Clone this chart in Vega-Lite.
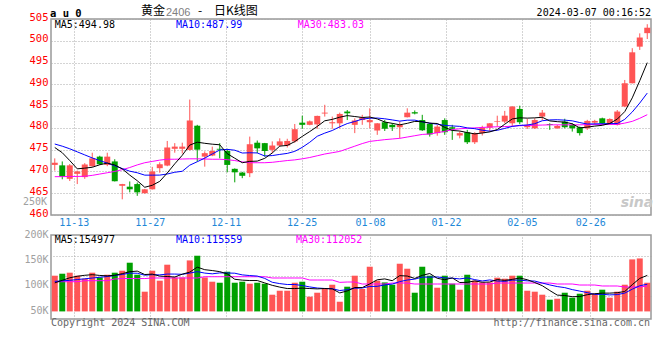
{
"$schema": "https://vega.github.io/schema/vega-lite/v6.json",
"background": "white",
"autosize": {"type": "pad"},
"padding": {"left": 22, "top": 4, "right": 5, "bottom": 5},
"config": {"view": {"stroke": "#999999", "strokeWidth": 1.5}, "axis": {"labelFont": "DejaVu Sans Mono", "labelFontSize": 10, "labelOverlap": false}},
"datasets": {"k": [
{"d":"11-08","open":471.5,"high":473.0,"low":470.2,"close":472.0,"vol":120100,"ma5":475.5,"ma10":476.3,"ma30":468.8,"vma5":106000,"vma10":109000,"vma30":108300},
{"d":"11-09","open":471.4,"high":472.3,"low":468.2,"close":468.8,"vol":124000,"ma5":474.3,"ma10":475.8,"ma30":468.8,"vma5":111000,"vma10":110000,"vma30":108300},
{"d":"11-10","open":468.3,"high":471.7,"low":467.8,"close":471.4,"vol":126000,"ma5":472.5,"ma10":475.2,"ma30":468.85,"vma5":116000,"vma10":111000,"vma30":108300},
{"d":"11-13","open":469.45,"high":470.2,"low":467.1,"close":470.0,"vol":120100,"ma5":470.6,"ma10":474.5,"ma30":468.85,"vma5":119000,"vma10":112500,"vma30":108300},
{"d":"11-14","open":468.7,"high":471.9,"low":468.3,"close":471.6,"vol":114200,"ma5":470.76,"ma10":473.8,"ma30":468.9,"vma5":120900,"vma10":114000,"vma30":110300},
{"d":"11-15","open":471.2,"high":474.3,"low":471.05,"close":473.0,"vol":126000,"ma5":470.96,"ma10":473.1,"ma30":469.1,"vma5":122100,"vma10":115500,"vma30":110300},
{"d":"11-16","open":473.4,"high":473.6,"low":471.5,"close":471.65,"vol":116700,"ma5":471.53,"ma10":472.5,"ma30":469.4,"vma5":120600,"vma10":117000,"vma30":110300},
{"d":"11-17","open":471.5,"high":474.3,"low":471.2,"close":473.4,"vol":122000,"ma5":471.93,"ma10":471.9,"ma30":469.7,"vma5":119800,"vma10":118500,"vma30":110300},
{"d":"11-20","open":472.3,"high":472.8,"low":467.7,"close":467.75,"vol":126000,"ma5":471.48,"ma10":471.3,"ma30":470.0,"vma5":121000,"vma10":120500,"vma30":113600},
{"d":"11-21","open":466.7,"high":467.15,"low":463.6,"close":467.1,"vol":129900,"ma5":470.58,"ma10":470.67,"ma30":470.4,"vma5":124100,"vma10":122500,"vma30":114500},
{"d":"11-22","open":466.5,"high":467.7,"low":465.2,"close":465.9,"vol":145600,"ma5":469.16,"ma10":470.06,"ma30":470.9,"vma5":128000,"vma10":125100,"vma30":114500},
{"d":"11-23","open":467.1,"high":467.45,"low":464.4,"close":465.2,"vol":122000,"ma5":467.87,"ma10":469.7,"ma30":471.5,"vma5":129100,"vma10":124900,"vma30":114500},
{"d":"11-24","open":465.0,"high":466.0,"low":464.9,"close":465.9,"vol":88700,"ma5":466.37,"ma10":469.15,"ma30":472.0,"vma5":122400,"vma10":121100,"vma30":114500},
{"d":"11-27","open":465.9,"high":471.05,"low":465.85,"close":470.0,"vol":129900,"ma5":466.82,"ma10":469.15,"ma30":472.3,"vma5":123200,"vma10":122100,"vma30":115600},
{"d":"11-28","open":470.75,"high":472.1,"low":469.7,"close":471.65,"vol":110300,"ma5":467.73,"ma10":469.16,"ma30":472.6,"vma5":119300,"vma10":121700,"vma30":115600},
{"d":"11-29","open":471.35,"high":477.0,"low":471.2,"close":475.5,"vol":141700,"ma5":469.65,"ma10":469.41,"ma30":472.8,"vma5":118500,"vma10":123300,"vma30":115600},
{"d":"11-30","open":475.2,"high":476.5,"low":474.3,"close":475.7,"vol":116700,"ma5":471.75,"ma10":469.81,"ma30":472.8,"vma5":117500,"vma10":123300,"vma30":115600},
{"d":"12-01","open":475.2,"high":476.6,"low":474.1,"close":475.7,"vol":116700,"ma5":473.71,"ma10":470.04,"ma30":472.85,"vma5":123100,"vma10":122800,"vma30":115600},
{"d":"12-04","open":474.95,"high":486.5,"low":474.8,"close":481.7,"vol":150100,"ma5":476.05,"ma10":471.44,"ma30":472.9,"vma5":127100,"vma10":125200,"vma30":115600},
{"d":"12-05","open":480.5,"high":480.7,"low":472.3,"close":475.0,"vol":159300,"ma5":476.72,"ma10":472.23,"ma30":472.9,"vma5":136900,"vma10":128100,"vma30":115600},
{"d":"12-06","open":473.4,"high":474.6,"low":471.1,"close":474.2,"vol":116700,"ma5":476.46,"ma10":473.06,"ma30":472.85,"vma5":131900,"vma10":125200,"vma30":118100},
{"d":"12-07","open":473.65,"high":475.7,"low":473.5,"close":474.7,"vol":108300,"ma5":476.26,"ma10":474.01,"ma30":472.8,"vma5":130200,"vma10":123800,"vma30":118100},
{"d":"12-08","open":475.2,"high":476.5,"low":473.0,"close":475.0,"vol":106300,"ma5":476.12,"ma10":474.92,"ma30":472.8,"vma5":128100,"vma10":125600,"vma30":118100},
{"d":"12-11","open":474.7,"high":475.2,"low":469.8,"close":471.5,"vol":127900,"ma5":474.08,"ma10":475.07,"ma30":472.7,"vma5":123700,"vma10":125400,"vma30":118100},
{"d":"12-12","open":470.6,"high":470.7,"low":467.5,"close":469.8,"vol":106300,"ma5":473.04,"ma10":474.88,"ma30":472.5,"vma5":113100,"vma10":125000,"vma30":118100},
{"d":"12-13","open":469.75,"high":469.9,"low":468.45,"close":469.0,"vol":108300,"ma5":472.0,"ma10":474.23,"ma30":472.2,"vma5":111400,"vma10":121700,"vma30":118100},
{"d":"12-14","open":469.6,"high":478.0,"low":468.7,"close":476.25,"vol":104400,"ma5":472.31,"ma10":474.29,"ma30":472.0,"vma5":110600,"vma10":120400,"vma30":118100},
{"d":"12-15","open":476.6,"high":477.1,"low":474.2,"close":475.3,"vol":106300,"ma5":472.37,"ma10":474.25,"ma30":472.0,"vma5":110600,"vma10":119400,"vma30":118100},
{"d":"12-18","open":476.5,"high":476.55,"low":473.4,"close":474.7,"vol":104400,"ma5":473.01,"ma10":473.55,"ma30":472.0,"vma5":105900,"vma10":114800,"vma30":118100},
{"d":"12-19","open":474.95,"high":476.9,"low":474.2,"close":475.95,"vol":82800,"ma5":474.24,"ma10":473.64,"ma30":472.1,"vma5":101200,"vma10":107200,"vma30":115600},
{"d":"12-20","open":475.95,"high":477.6,"low":475.7,"close":476.9,"vol":90600,"ma5":475.82,"ma10":473.91,"ma30":472.3,"vma5":97700,"vma10":104600,"vma30":115600},
{"d":"12-21","open":475.95,"high":477.5,"low":475.5,"close":477.0,"vol":90600,"ma5":475.97,"ma10":474.14,"ma30":472.5,"vma5":94900,"vma10":102800,"vma30":115600},
{"d":"12-22","open":476.9,"high":480.9,"low":476.6,"close":479.7,"vol":106300,"ma5":476.85,"ma10":474.61,"ma30":472.65,"vma5":94900,"vma10":102800,"vma30":115600},
{"d":"12-25","open":481.2,"high":482.8,"low":479.8,"close":480.7,"vol":108300,"ma5":478.05,"ma10":475.53,"ma30":472.9,"vma5":95700,"vma10":100800,"vma30":115600},
{"d":"12-26","open":480.7,"high":481.7,"low":480.6,"close":481.5,"vol":78900,"ma5":479.16,"ma10":476.7,"ma30":473.2,"vma5":94900,"vma10":98100,"vma30":111600},
{"d":"12-27","open":480.8,"high":482.8,"low":479.8,"close":482.75,"vol":86700,"ma5":480.33,"ma10":478.08,"ma30":473.6,"vma5":94200,"vma10":95900,"vma30":111600},
{"d":"12-28","open":483.3,"high":485.3,"low":482.6,"close":483.5,"vol":94600,"ma5":481.63,"ma10":478.8,"ma30":474.0,"vma5":95000,"vma10":95000,"vma30":111600},
{"d":"12-29","open":481.05,"high":482.6,"low":479.8,"close":481.3,"vol":102400,"ma5":481.95,"ma10":479.4,"ma30":474.3,"vma5":94200,"vma10":94600,"vma30":111600},
{"d":"01-02","open":481.05,"high":483.5,"low":479.9,"close":483.2,"vol":69000,"ma5":482.45,"ma10":480.25,"ma30":474.6,"vma5":86300,"vma10":91000,"vma30":107000},
{"d":"01-03","open":483.75,"high":484.1,"low":481.8,"close":483.35,"vol":98500,"ma5":482.82,"ma10":480.99,"ma30":475.2,"vma5":90200,"vma10":92600,"vma30":107700},
{"d":"01-04","open":480.7,"high":482.2,"low":478.8,"close":481.7,"vol":120100,"ma5":482.61,"ma10":481.47,"ma30":475.8,"vma5":96900,"vma10":95500,"vma30":107700},
{"d":"01-05","open":481.8,"high":483.0,"low":480.7,"close":482.4,"vol":94000,"ma5":482.39,"ma10":482.01,"ma30":476.4,"vma5":96800,"vma10":95900,"vma30":103800},
{"d":"01-08","open":481.3,"high":484.5,"low":479.9,"close":481.8,"vol":137700,"ma5":482.49,"ma10":482.22,"ma30":476.9,"vma5":103900,"vma10":99000,"vma30":103800},
{"d":"01-09","open":479.4,"high":481.1,"low":478.4,"close":481.05,"vol":110300,"ma5":482.06,"ma10":482.26,"ma30":477.1,"vma5":112100,"vma10":99200,"vma30":103800},
{"d":"01-10","open":481.3,"high":481.8,"low":479.3,"close":479.8,"vol":106900,"ma5":481.35,"ma10":482.09,"ma30":477.3,"vma5":113800,"vma10":102000,"vma30":103800},
{"d":"01-11","open":480.7,"high":481.05,"low":479.3,"close":480.15,"vol":102400,"ma5":481.04,"ma10":481.83,"ma30":477.45,"vma5":110300,"vma10":103600,"vma30":105700},
{"d":"01-12","open":480.15,"high":481.5,"low":477.6,"close":480.7,"vol":143600,"ma5":480.7,"ma10":481.55,"ma30":477.6,"vma5":120200,"vma10":108500,"vma30":105700},
{"d":"01-15","open":482.45,"high":484.5,"low":482.4,"close":483.5,"vol":133800,"ma5":481.04,"ma10":481.77,"ma30":477.9,"vma5":119400,"vma10":111600,"vma30":105700},
{"d":"01-16","open":483.6,"high":484.0,"low":483.1,"close":483.3,"vol":86700,"ma5":481.49,"ma10":481.78,"ma30":478.2,"vma5":114700,"vma10":113400,"vma30":103800},
{"d":"01-17","open":481.8,"high":483.0,"low":479.3,"close":479.45,"vol":137700,"ma5":481.42,"ma10":481.39,"ma30":478.5,"vma5":120800,"vma10":117300,"vma30":103800},
{"d":"01-18","open":480.9,"high":481.1,"low":478.0,"close":478.5,"vol":120100,"ma5":481.09,"ma10":481.07,"ma30":478.6,"vma5":124400,"vma10":117300,"vma30":103800},
{"d":"01-19","open":478.8,"high":480.7,"low":478.2,"close":480.3,"vol":96500,"ma5":481.01,"ma10":480.86,"ma30":478.9,"vma5":115000,"vma10":117600,"vma30":103800},
{"d":"01-22","open":481.8,"high":482.2,"low":478.4,"close":479.0,"vol":120100,"ma5":480.11,"ma10":480.58,"ma30":479.2,"vma5":112200,"vma10":115800,"vma30":103800},
{"d":"01-23","open":480.15,"high":480.7,"low":477.25,"close":479.8,"vol":104400,"ma5":479.41,"ma10":480.45,"ma30":479.6,"vma5":115800,"vma10":115200,"vma30":103800},
{"d":"01-24","open":478.25,"high":479.2,"low":477.6,"close":478.8,"vol":92600,"ma5":479.28,"ma10":480.35,"ma30":479.8,"vma5":106700,"vma10":113800,"vma30":103800},
{"d":"01-25","open":479.0,"high":479.55,"low":476.3,"close":476.7,"vol":122000,"ma5":478.92,"ma10":480.0,"ma30":479.9,"vma5":107100,"vma10":115800,"vma30":103800},
{"d":"01-26","open":476.7,"high":479.0,"low":476.3,"close":478.8,"vol":110300,"ma5":478.62,"ma10":479.82,"ma30":480.0,"vma5":109900,"vma10":112400,"vma30":103800},
{"d":"01-29","open":478.8,"high":480.5,"low":478.25,"close":480.05,"vol":106900,"ma5":478.83,"ma10":479.47,"ma30":480.1,"vma5":107200,"vma10":109700,"vma30":103800},
{"d":"01-30","open":480.05,"high":481.1,"low":479.15,"close":481.05,"vol":106900,"ma5":479.08,"ma10":479.25,"ma30":480.2,"vma5":107700,"vma10":111800,"vma30":103800},
{"d":"01-31","open":481.35,"high":482.8,"low":480.3,"close":481.5,"vol":116200,"ma5":479.62,"ma10":479.45,"ma30":480.25,"vma5":112500,"vma10":109600,"vma30":105700},
{"d":"02-01","open":481.45,"high":483.9,"low":481.05,"close":482.8,"vol":114200,"ma5":480.84,"ma10":479.88,"ma30":480.3,"vma5":110900,"vma10":109000,"vma30":105700},
{"d":"02-02","open":481.05,"high":485.0,"low":480.3,"close":484.9,"vol":120100,"ma5":482.06,"ma10":480.34,"ma30":480.4,"vma5":112900,"vma10":111400,"vma30":105700},
{"d":"02-05","open":484.35,"high":485.1,"low":480.85,"close":481.3,"vol":120100,"ma5":482.31,"ma10":480.57,"ma30":480.5,"vma5":115500,"vma10":111400,"vma30":105700},
{"d":"02-06","open":480.15,"high":482.1,"low":479.75,"close":480.7,"vol":90600,"ma5":482.24,"ma10":480.66,"ma30":480.55,"vma5":112200,"vma10":110000,"vma30":105700},
{"d":"02-07","open":479.9,"high":482.2,"low":479.75,"close":481.8,"vol":88700,"ma5":482.3,"ma10":480.96,"ma30":480.6,"vma5":106700,"vma10":109600,"vma30":105700},
{"d":"02-08","open":482.6,"high":484.1,"low":481.8,"close":483.5,"vol":82800,"ma5":482.44,"ma10":481.64,"ma30":480.65,"vma5":100500,"vma10":105700,"vma30":105700},
{"d":"02-19","open":480.9,"high":481.05,"low":479.55,"close":480.7,"vol":73000,"ma5":481.6,"ma10":481.83,"ma30":480.7,"vma5":91000,"vma10":102000,"vma30":105700},
{"d":"02-20","open":479.9,"high":480.7,"low":479.8,"close":480.45,"vol":74900,"ma5":481.43,"ma10":481.87,"ma30":480.7,"vma5":82000,"vma10":98800,"vma30":103800},
{"d":"02-21","open":481.45,"high":482.1,"low":479.9,"close":480.15,"vol":86700,"ma5":481.32,"ma10":481.78,"ma30":480.7,"vma5":81200,"vma10":96700,"vma30":103800},
{"d":"02-22","open":480.7,"high":481.05,"low":479.15,"close":479.9,"vol":76900,"ma5":480.94,"ma10":481.62,"ma30":480.7,"vma5":78900,"vma10":92800,"vma30":103800},
{"d":"02-23","open":480.15,"high":480.3,"low":478.25,"close":478.8,"vol":84700,"ma5":480.0,"ma10":481.22,"ma30":480.7,"vma5":79200,"vma10":89900,"vma30":101800},
{"d":"02-26","open":479.9,"high":481.85,"low":479.55,"close":481.6,"vol":90600,"ma5":480.18,"ma10":480.89,"ma30":480.75,"vma5":82800,"vma10":86900,"vma30":101800},
{"d":"02-27","open":481.2,"high":481.85,"low":480.7,"close":481.6,"vol":84700,"ma5":480.41,"ma10":480.92,"ma30":480.75,"vma5":84700,"vma10":83400,"vma30":101800},
{"d":"02-28","open":482.2,"high":482.35,"low":480.7,"close":481.05,"vol":92600,"ma5":480.59,"ma10":480.96,"ma30":480.75,"vma5":85900,"vma10":83600,"vma30":99900},
{"d":"02-29","open":481.05,"high":482.2,"low":480.7,"close":482.05,"vol":76900,"ma5":481.02,"ma10":480.98,"ma30":480.8,"vma5":85900,"vma10":82400,"vma30":99900},
{"d":"03-01","open":480.7,"high":484.1,"low":480.55,"close":483.75,"vol":88700,"ma5":482.01,"ma10":481.0,"ma30":480.8,"vma5":86700,"vma10":83000,"vma30":99900},
{"d":"03-04","open":484.9,"high":491.0,"low":484.75,"close":490.25,"vol":102400,"ma5":483.74,"ma10":481.96,"ma30":481.1,"vma5":89100,"vma10":85900,"vma30":97900},
{"d":"03-05","open":490.25,"high":498.3,"low":490.2,"close":497.35,"vol":152100,"ma5":486.89,"ma10":483.65,"ma30":481.5,"vma5":102500,"vma10":93600,"vma30":97900},
{"d":"03-06","open":498.65,"high":501.7,"low":497.9,"close":500.75,"vol":154000,"ma5":490.83,"ma10":485.71,"ma30":482.2,"vma5":114800,"vma10":100400,"vma30":97900},
{"d":"03-07","open":501.75,"high":503.8,"low":500.4,"close":503.0,"vol":106300,"ma5":494.98,"ma10":487.99,"ma30":483.03,"vma5":120700,"vma10":103300,"vma30":99900}
]},
"data": {"name": "k"},
"bounds": "flush",
"spacing": 20,
"resolve": {"scale": {"x": "independent", "y": "independent"}},
"vconcat": [
{
"width": 600, "height": 196,
"resolve": {"scale": {"x": "independent"}},
"layer": [
{"mark": {"type": "point", "opacity": 0},
 "encoding": {"x": {"field": "d", "type": "ordinal", "sort": null, "scale": {"type": "point", "padding": 0},
   "axis": {"values": ["11-13","11-27","12-11","12-25","01-08","01-22","02-05","02-26"], "grid": true, "gridColor": "#a8a8a8", "gridDash": [1,2], "ticks": false, "domain": false, "labelColor": "#1e88d8", "labelFontSize": 10, "labelPadding": 2, "labelAngle": 0, "title": null}}}},
{"resolve": {"axis": {"y": "independent"}},
 "layer": [
 {"mark": {"type": "bar"},
  "encoding": {
   "x": {"field": "d", "type": "ordinal", "sort": null, "scale": {"type": "band", "paddingInner": 0.2, "paddingOuter": 0.1}, "axis": null},
   "y": {"field": "open", "type": "quantitative", "scale": {"domain": [460, 505], "nice": false, "zero": false}, "title": null,
     "axis": {"values": [460,465,470,475,480,485,490,495,500,505], "grid": true, "gridColor": "#a8a8a8", "gridDash": [1,2], "ticks": false, "domain": false, "labelColor": "#ff0000", "labelFontSize": 10.5, "labelPadding": 3, "labelOffset": -2, "labelFlush": false, "labelOverlap": false}},
   "y2": {"field": "close"},
   "color": {"condition": {"test": "datum.close >= datum.open", "value": "#ff5555"}, "value": "#00a000"}}},
 {"mark": {"type": "rule", "strokeWidth": 1},
  "encoding": {
   "x": {"field": "d", "type": "ordinal", "sort": null, "scale": {"type": "band", "paddingInner": 0.2, "paddingOuter": 0.1}, "axis": null},
   "y": {"field": "low", "type": "quantitative", "scale": {"domain": [460, 505], "nice": false, "zero": false}, "title": null, "axis": null},
   "y2": {"field": "high"},
   "color": {"condition": {"test": "datum.close >= datum.open", "value": "#ff5555"}, "value": "#00a000"}}},
 {"mark": {"type": "line", "color": "#ff00ff", "strokeWidth": 1},
  "encoding": {"x": {"field": "d", "type": "ordinal", "sort": null, "scale": {"type": "band", "paddingInner": 0.2, "paddingOuter": 0.1}, "axis": null},
   "y": {"field": "ma30", "type": "quantitative", "scale": {"domain": [460, 505], "nice": false, "zero": false}, "title": null, "axis": null}}},
 {"mark": {"type": "line", "color": "#0000ff", "strokeWidth": 1},
  "encoding": {"x": {"field": "d", "type": "ordinal", "sort": null, "scale": {"type": "band", "paddingInner": 0.2, "paddingOuter": 0.1}, "axis": null},
   "y": {"field": "ma10", "type": "quantitative", "scale": {"domain": [460, 505], "nice": false, "zero": false}, "title": null, "axis": null}}},
 {"mark": {"type": "line", "color": "#000000", "strokeWidth": 1},
  "encoding": {"x": {"field": "d", "type": "ordinal", "sort": null, "scale": {"type": "band", "paddingInner": 0.2, "paddingOuter": 0.1}, "axis": null},
   "y": {"field": "ma5", "type": "quantitative", "scale": {"domain": [460, 505], "nice": false, "zero": false}, "title": null, "axis": null}}},
 {"data": {"values": [{}]}, "mark": {"type": "text", "text": "a u 0", "align": "left", "baseline": "alphabetic", "font": "DejaVu Sans Mono", "fontSize": 10.5, "fontWeight": "bold", "color": "#000000", "dx": -4.75},
  "encoding": {"x": {"datum": "11-08", "type": "ordinal", "axis": null}, "y": {"datum": 505.5, "type": "quantitative", "axis": null}}},
 {"data": {"values": [{}]}, "mark": {"type": "text", "text": "黄金", "align": "left", "baseline": "alphabetic", "font": "Noto Sans CJK SC", "fontSize": 12, "color": "#000000", "dx": 3.75},
  "encoding": {"x": {"datum": "11-23", "type": "ordinal", "axis": null}, "y": {"datum": 505.95, "type": "quantitative", "axis": null}}},
 {"data": {"values": [{}]}, "mark": {"type": "text", "text": "2406", "align": "left", "baseline": "alphabetic", "font": "Liberation Sans", "fontSize": 11, "color": "#808080", "dx": 6.25},
  "encoding": {"x": {"datum": "11-28", "type": "ordinal", "axis": null}, "y": {"datum": 505.7, "type": "quantitative", "axis": null}}},
 {"data": {"values": [{}]}, "mark": {"type": "text", "text": "-", "align": "center", "baseline": "alphabetic", "font": "Noto Sans CJK SC", "fontSize": 12, "color": "#000000", "dx": 2.75},
  "encoding": {"x": {"datum": "12-05", "type": "ordinal", "axis": null}, "y": {"datum": 505.95, "type": "quantitative", "axis": null}}},
 {"data": {"values": [{}]}, "mark": {"type": "text", "text": "日K线图", "align": "left", "baseline": "alphabetic", "font": "Noto Sans CJK SC", "fontSize": 12, "color": "#000000", "dx": 1.75},
  "encoding": {"x": {"datum": "12-07", "type": "ordinal", "axis": null}, "y": {"datum": 505.95, "type": "quantitative", "axis": null}}},
 {"data": {"values": [{}]}, "mark": {"type": "text", "text": "2024-03-07 00:16:52", "align": "right", "baseline": "alphabetic", "font": "DejaVu Sans Mono", "fontSize": 10, "color": "#000000", "dx": 3.75},
  "encoding": {"x": {"datum": "03-07", "type": "ordinal", "axis": null}, "y": {"datum": 505.7, "type": "quantitative", "axis": null}}},
 {"data": {"values": [{}]}, "mark": {"type": "text", "text": "MA5:494.98", "align": "left", "baseline": "alphabetic", "font": "DejaVu Sans Mono", "fontSize": 10, "color": "#000000", "dx": 0},
  "encoding": {"x": {"datum": "11-08", "type": "ordinal", "axis": null}, "y": {"datum": 503.0, "type": "quantitative", "axis": null}}},
 {"data": {"values": [{}]}, "mark": {"type": "text", "text": "MA10:487.99", "align": "left", "baseline": "alphabetic", "font": "DejaVu Sans Mono", "fontSize": 10, "color": "#0000ff", "dx": 1.25},
  "encoding": {"x": {"datum": "11-30", "type": "ordinal", "axis": null}, "y": {"datum": 503.0, "type": "quantitative", "axis": null}}},
 {"data": {"values": [{}]}, "mark": {"type": "text", "text": "MA30:483.03", "align": "left", "baseline": "alphabetic", "font": "DejaVu Sans Mono", "fontSize": 10, "color": "#ff00ff", "dx": 3},
  "encoding": {"x": {"datum": "12-22", "type": "ordinal", "axis": null}, "y": {"datum": 503.0, "type": "quantitative", "axis": null}}},
 {"data": {"values": [{}]}, "mark": {"type": "text", "text": "250K", "align": "right", "baseline": "middle", "font": "DejaVu Sans Mono", "fontSize": 10, "color": "#a0a0a0", "dx": -7.75},
  "encoding": {"x": {"datum": "11-08", "type": "ordinal", "axis": null}, "y": {"datum": 462.9, "type": "quantitative", "axis": null}}},
 {"data": {"values": [{}]}, "mark": {"type": "text", "text": "sina", "align": "center", "baseline": "alphabetic", "font": "DejaVu Sans", "fontSize": 14, "fontWeight": "bold", "fontStyle": "italic", "color": "#c8c8c8", "dx": -2.75},
  "encoding": {"x": {"datum": "03-06", "type": "ordinal", "axis": null}, "y": {"datum": 461.84, "type": "quantitative", "axis": null}}}
]}
]
},
{
"width": 600, "height": 84,
"resolve": {"scale": {"x": "independent"}},
"layer": [
{"mark": {"type": "point", "opacity": 0},
 "encoding": {"x": {"field": "d", "type": "ordinal", "sort": null, "scale": {"type": "point", "padding": 0},
   "axis": {"values": ["11-13","11-27","12-11","12-25","01-08","01-22","02-05","02-26"], "grid": true, "gridColor": "#a8a8a8", "gridDash": [1,2], "ticks": false, "domain": false, "labels": false, "title": null}}}},
{"resolve": {"axis": {"y": "independent"}},
 "layer": [
 {"mark": {"type": "bar"},
  "encoding": {
   "x": {"field": "d", "type": "ordinal", "sort": null, "scale": {"type": "band", "paddingInner": 0.2, "paddingOuter": 0.1}, "axis": null},
   "y": {"field": "vol", "type": "quantitative", "scale": {"domain": [35100, 200000], "nice": false, "zero": false}, "title": null,
     "axis": {"values": [50000, 100000, 150000, 200000], "labelExpr": "(datum.value / 1000) + 'K'", "grid": false, "ticks": false, "domain": false, "labelColor": "#a0a0a0", "labelFontSize": 10, "labelPadding": 3, "labelOffset": -1, "labelFlush": false, "labelOverlap": false}},
   "y2": {"datum": 50000},
   "color": {"condition": {"test": "datum.close >= datum.open", "value": "#ff5555"}, "value": "#00a000"}}},
 {"mark": {"type": "line", "color": "#ff00ff", "strokeWidth": 1},
  "encoding": {"x": {"field": "d", "type": "ordinal", "sort": null, "scale": {"type": "band", "paddingInner": 0.2, "paddingOuter": 0.1}, "axis": null},
   "y": {"field": "vma30", "type": "quantitative", "scale": {"domain": [35100, 200000], "nice": false, "zero": false}, "title": null,
     "axis": {"orient": "right", "values": [80300, 119500, 158800], "grid": true, "gridColor": "#a8a8a8", "gridDash": [1,2], "labels": false, "ticks": false, "domain": false}}}},
 {"mark": {"type": "line", "color": "#0000ff", "strokeWidth": 1},
  "encoding": {"x": {"field": "d", "type": "ordinal", "sort": null, "scale": {"type": "band", "paddingInner": 0.2, "paddingOuter": 0.1}, "axis": null},
   "y": {"field": "vma10", "type": "quantitative", "scale": {"domain": [35100, 200000], "nice": false, "zero": false}, "title": null, "axis": null}}},
 {"mark": {"type": "line", "color": "#000000", "strokeWidth": 1},
  "encoding": {"x": {"field": "d", "type": "ordinal", "sort": null, "scale": {"type": "band", "paddingInner": 0.2, "paddingOuter": 0.1}, "axis": null},
   "y": {"field": "vma5", "type": "quantitative", "scale": {"domain": [35100, 200000], "nice": false, "zero": false}, "title": null, "axis": null}}},
 {"data": {"values": [{}]}, "mark": {"type": "text", "text": "MA5:154977", "align": "left", "baseline": "alphabetic", "font": "DejaVu Sans Mono", "fontSize": 10, "color": "#000000", "dx": 0},
  "encoding": {"x": {"datum": "11-08", "type": "ordinal", "axis": null}, "y": {"datum": 183700, "type": "quantitative", "axis": null}}},
 {"data": {"values": [{}]}, "mark": {"type": "text", "text": "MA10:115559", "align": "left", "baseline": "alphabetic", "font": "DejaVu Sans Mono", "fontSize": 10, "color": "#0000ff", "dx": 1.25},
  "encoding": {"x": {"datum": "11-30", "type": "ordinal", "axis": null}, "y": {"datum": 183700, "type": "quantitative", "axis": null}}},
 {"data": {"values": [{}]}, "mark": {"type": "text", "text": "MA30:112052", "align": "left", "baseline": "alphabetic", "font": "DejaVu Sans Mono", "fontSize": 10, "color": "#ff00ff", "dx": 1.25},
  "encoding": {"x": {"datum": "12-22", "type": "ordinal", "axis": null}, "y": {"datum": 183700, "type": "quantitative", "axis": null}}},
 {"data": {"values": [{}]}, "mark": {"type": "text", "text": "Copyright 2024 SINA.COM", "align": "left", "baseline": "alphabetic", "font": "DejaVu Sans Mono", "fontSize": 10, "color": "#666666", "dx": -3.75},
  "encoding": {"x": {"datum": "11-08", "type": "ordinal", "axis": null}, "y": {"datum": 21400, "type": "quantitative", "axis": null}}},
 {"data": {"values": [{}]}, "mark": {"type": "text", "text": "http://finance.sina.com.cn", "align": "right", "baseline": "alphabetic", "font": "DejaVu Sans Mono", "fontSize": 10, "color": "#666666", "dx": 2.75},
  "encoding": {"x": {"datum": "03-07", "type": "ordinal", "axis": null}, "y": {"datum": 21400, "type": "quantitative", "axis": null}}}
 ]}
]
}
]
}
